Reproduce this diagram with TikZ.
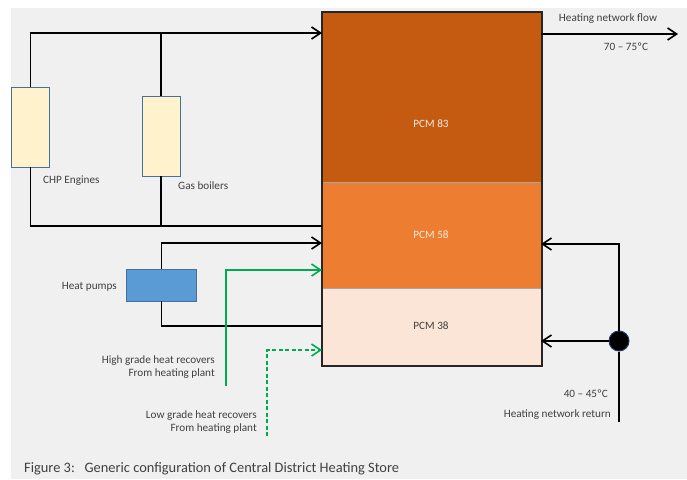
\documentclass[tikz,border=0pt]{standalone}
\usepackage{fontspec}
\setmainfont{Carlito}
\usetikzlibrary{arrows.meta}

\definecolor{paper}{RGB}{240,240,240}
\definecolor{txt}{RGB}{64,64,64}
\definecolor{pcmhot}{RGB}{197,90,17}
\definecolor{pcmmid}{RGB}{237,125,49}
\definecolor{pcmlow}{RGB}{251,229,214}
\definecolor{unitfill}{RGB}{255,242,204}
\definecolor{unitedge}{RGB}{65,113,156}
\definecolor{pumpfill}{RGB}{91,155,213}
\definecolor{recovery}{RGB}{0,170,80}
\definecolor{joint}{RGB}{31,56,100}

\tikzset{
  pipe/.style={line width=1.5pt, black},
  flowarrow/.style={-{Straight Barb[length=9pt,width=12pt,line width=1.6pt]}},
  greenpipe/.style={line width=1.5pt, recovery},
  unit/.style={draw=unitedge, line width=0.9pt, fill=unitfill, inner sep=0pt},
  layer/.style={draw=gray!70, line width=0.8pt, inner sep=0pt, anchor=north west, minimum width=219pt},
  lbl/.style={font=\fontsize{11.2}{13.5}\selectfont, text=txt, inner sep=0pt},
}

\begin{document}
\begin{tikzpicture}[x=1pt, y=-1pt]
\useasboundingbox (0,0) rectangle (687,479);
\fill[white] (0,0) rectangle (687,479);
\fill[paper] (11,8) rectangle (687,479);

% storage tank with three phase-change layers
\node[layer, fill=pcmhot, minimum height=170pt] (pcm83) at (322,12) {};
\node[layer, fill=pcmmid, minimum height=106pt] (pcm58) at (322,182) {};
\node[layer, fill=pcmlow, minimum height=77pt] (pcm38) at (322,288) {};
\draw[line width=1.5pt, black!85] (pcm83.north west) rectangle (pcm38.south east);
\node[lbl, text=white!90!pcmhot] (t83) at (431,124) {PCM 83};
\node[lbl, text=white!85!pcmmid] (t58) at (431,235) {PCM 58};
\node[lbl] (t38) at (431,326) {PCM 38};

% inlet/outlet points on the tank walls
\coordinate (inTop) at (322,33);
\coordinate (retTop) at (322,226);
\coordinate (inHP) at (322,243);
\coordinate (retHP) at (322,326);
\coordinate (inHG) at (322,270);
\coordinate (inLG) at (322,350);
\coordinate (outFlow) at (541,34);
\coordinate (flowEnd) at (678,34);
\coordinate (inR58) at (541,244);
\coordinate (inR38) at (541,341);
\coordinate (hgStart) at (226,386);
\coordinate (lgStart) at (267,436);
\coordinate (retStart) at (619,422);

% heat sources
\node[unit, minimum width=38pt, minimum height=80pt] (chp) at (30.5,127) {};
\node[unit, minimum width=38pt, minimum height=80pt] (gas) at (161,136) {};
\node[unit, fill=pumpfill, minimum width=70pt, minimum height=32pt] (hp) at (161.5,285) {};

\node[lbl, anchor=west] (chpT) at (43,181) {CHP Engines};
\node[lbl, anchor=west] (gasT) at (178,186) {Gas boilers};
\node[lbl, anchor=east] (hpT) at (117,287) {Heat pumps};

% boiler plant circuit
\draw[pipe, flowarrow] (chp.north) |- (inTop);
\draw[pipe] (gas.north) -- (gas.north |- inTop);
\draw[pipe] (chp.south) |- (retTop);
\draw[pipe] (gas.south) -- (gas.south |- retTop);

% heat pump circuit
\draw[pipe, flowarrow] (hp.north) |- (inHP);
\draw[pipe] (hp.south) |- (retHP);

% recovered heat
\draw[greenpipe, flowarrow] (hgStart) |- (inHG);
\draw[greenpipe, flowarrow, dash pattern=on 4pt off 2.5pt] (lgStart) |- (inLG);
\node[lbl, anchor=east, align=right] (hgT) at (215,367) {High grade heat recovers\\From heating plant};
\node[lbl, anchor=east, align=right] (lgT) at (257,422) {Low grade heat recovers\\From heating plant};

% heating network
\draw[pipe, flowarrow] (outFlow) -- (flowEnd);
\node[lbl] (flowT) at (608,19) {Heating network flow};
\node[lbl] (flowTemp) at (626,47) {70 – 75ºC};

\node[circle, fill=black, draw=joint, line width=1pt, minimum size=20pt, inner sep=0pt] (jn) at (619,341) {};
\draw[pipe] (retStart) -- (jn.south);
\draw[pipe, flowarrow] (jn.north) |- (inR58);
\draw[pipe, flowarrow] (jn.west) -- (inR38);
\node[lbl, anchor=east] (retTemp) at (608,394) {40 – 45ºC};
\node[lbl, anchor=east] (retT) at (611,415) {Heating network return};

% caption
\node[lbl, font=\fontsize{14.4}{16}\selectfont, anchor=west] (cap) at (24,469)
  {Figure 3:\ \ \ Generic configuration of Central District Heating Store};
\end{tikzpicture}
\end{document}
